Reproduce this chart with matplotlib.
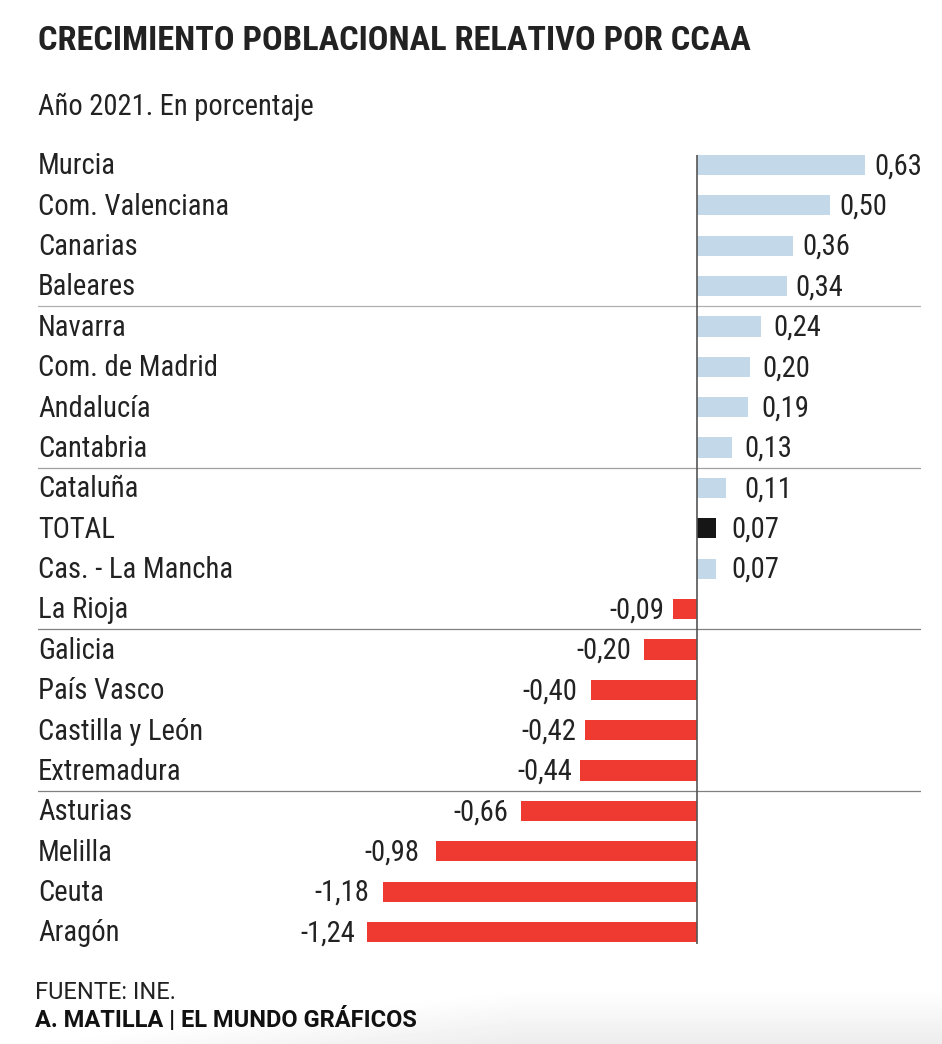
import matplotlib
matplotlib.use("Agg")
import matplotlib.pyplot as plt
import numpy as np

# datos
regiones = ["Murcia", "Com. Valenciana", "Canarias", "Baleares", "Navarra", "Com. de Madrid",
            "Andalucía", "Cantabria", "Cataluña", "TOTAL", "Cas. - La Mancha", "La Rioja",
            "Galicia", "País Vasco", "Castilla y León", "Extremadura", "Asturias", "Melilla",
            "Ceuta", "Aragón"]
valores = [0.63, 0.50, 0.36, 0.34, 0.24, 0.20, 0.19, 0.13, 0.11, 0.07, 0.07, -0.09,
           -0.20, -0.40, -0.42, -0.44, -0.66, -0.98, -1.18, -1.24]
separadores = [3.5, 7.5, 11.5, 15.5]
color_separador = ["#b0b0b0", "#a0a0a0", "#808080", "#808080"]

# hueco entre barra y etiqueta, en pixeles, como en el original
hueco = [11, 10, 11, 9, 14, 13, 15, 14, 19, 17, 17, 10, 14, 14, 10, 9, 14, 18, 15, 13]

AZUL = "#c3d9e9"
ROJO = "#ee3a31"
NEGRO = "#161616"
TEXTO = "#222222"

plt.rcParams["font.family"] = ["Roboto Condensed", "Roboto", "DejaVu Sans"]

W, H = 942, 1044
fig = plt.figure(figsize=(W / 100, H / 100), dpi=100, facecolor="white")

# sombra gris abajo, se apaga hacia la izquierda
fondo = fig.add_axes([0, 0, 1, 1], zorder=0)
fondo.axis("off")
xx, yy = np.meshgrid(np.linspace(0, 1, W), np.linspace(0, 1, H))
sombra = np.clip((yy - 0.948) / 0.052 - 1.0 * np.clip(0.55 - xx, 0, 1) / 0.55, 0, 1)
fondo.imshow(1 - 0.07 * sombra, cmap="gray", vmin=0, vmax=1, extent=[0, 1, 0, 1],
             origin="upper", aspect="auto")

# ejes en pixeles: x 38-921, y 145-945
ax = fig.add_axes([38 / W, 1 - 945 / H, (921 - 38) / W, 800 / H], zorder=1)
ax.patch.set_alpha(0)
escala = 266
paso = 40.37
ax.set_xlim((38 - 697) / escala, (921 - 697) / escala)
ax.set_ylim((945 - 165) / paso, (145 - 165) / paso)
ax.axis("off")

posiciones = np.arange(len(regiones))
colores = []
for nombre, v in zip(regiones, valores):
    if nombre == "TOTAL":
        colores.append(NEGRO)
    elif v > 0:
        colores.append(AZUL)
    else:
        colores.append(ROJO)

ax.barh(posiciones, valores, height=0.5, color=colores, zorder=2)

for s, c in zip(separadores, color_separador):
    ax.axhline(s, color=c, lw=0.9, zorder=1)
ax.plot([0, 0], [-0.25, 19.3], color="#555555", lw=1.2, zorder=3, solid_capstyle="butt")

for i, nombre in enumerate(regiones):
    ax.annotate(nombre, (0, i), xycoords=ax.get_yaxis_transform(), xytext=(0, 1.2),
                textcoords="offset points", ha="left", va="center_baseline",
                fontsize=20.6, color=TEXTO)
    v = valores[i]
    etiqueta = f"{v:.2f}".replace(".", ",")
    signo = 1 if v > 0 else -1
    ax.annotate(etiqueta, (v, i), xytext=(signo * (hueco[i] - 1) * 0.72, 1.2), textcoords="offset points",
                ha="left" if v > 0 else "right", va="center_baseline", fontsize=20.6, color=TEXTO)

fig.text(38 / W, 1 - 37.5 / H, "CRECIMIENTO POBLACIONAL RELATIVO POR CCAA", fontsize=24.75,
         fontweight="bold", color=TEXTO, va="center_baseline", ha="left")
fig.text(38 / W, 1 - 104 / H, "Año 2021. En porcentaje", fontsize=20.55, color=TEXTO,
         va="center_baseline", ha="left")
fig.text(35 / W, 1 - 990 / H, "FUENTE: INE.", fontsize=17, color=TEXTO, family=["Roboto"],
         va="center_baseline", ha="left")
fig.text(35 / W, 1 - 1017 / H, "A. MATILLA | EL MUNDO GRÁFICOS", fontsize=17, fontweight="bold",
         family=["Roboto"], color="#111111", va="center_baseline", ha="left")

fig.savefig("out.png", dpi=100)
